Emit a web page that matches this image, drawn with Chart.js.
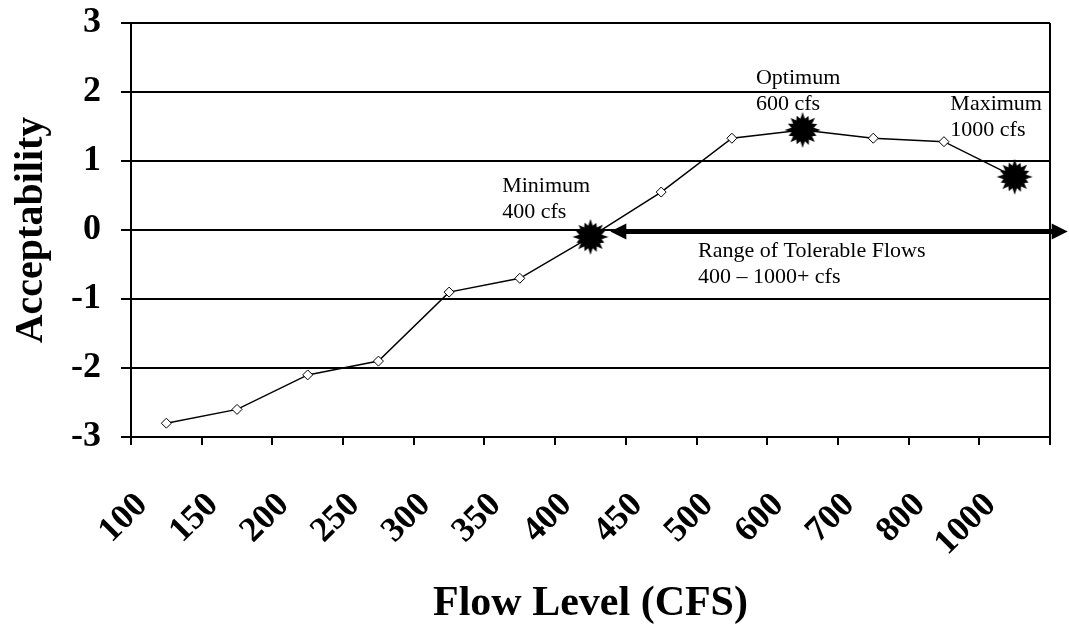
<!DOCTYPE html>
<html><head><meta charset="utf-8">
<script src="https://cdn.jsdelivr.net/npm/chart.js@4/dist/chart.umd.min.js"></script>
<style>html,body{margin:0;padding:0;background:#fff;overflow:hidden;}</style>
</head><body>
<canvas id="c" width="1069" height="631"></canvas>
<script>
// ---- data ----
const flowLevels = ['100','150','200','250','300','350','400','450','500','600','700','800','1000'];
const acceptability = [-2.8, -2.6, -2.1, -1.9, -0.9, -0.7, -0.1, 0.55, 1.33, 1.45, 1.33, 1.28, 0.77];
const yTickValues = [-3, -2, -1, 0, 1, 2, 3];
const keyFlows = ['400', '600', '1000'];
const noteMinimum = ['Minimum', '400 cfs'];
const noteOptimum = ['Optimum', '600 cfs'];
const noteMaximum = ['Maximum', '1000 cfs'];
const noteRange = ['Range of Tolerable Flows', '400 \u2013 1000+ cfs'];

// annotation anchors in data units (category index, acceptability)
const annotations = [
  { lines: noteMinimum, at: [4.75, 0.55] },
  { lines: noteOptimum, at: [8.34, 2.12] },
  { lines: noteMaximum, at: [11.09, 1.74] },
  { lines: noteRange,   at: [7.52, -0.39] }
];
const rangeArrow = { from: 6.28, to: 12.75, y: -0.02 };

const SERIF = '"Liberation Serif", "Times New Roman", serif';

function makeBurst(size) {
  const c = document.createElement('canvas');
  c.width = c.height = size;
  const g = c.getContext('2d');
  const r = size / 2;
  const outer = [1, 0.84, 0.97, 0.88, 1, 0.83, 0.95, 0.9, 1, 0.86, 0.96, 0.84, 1, 0.89, 0.94, 0.86];
  const n = outer.length;
  g.beginPath();
  for (let i = 0; i < n; i++) {
    const a1 = i / n * 2 * Math.PI - Math.PI / 2;
    const a2 = (i + 0.5) / n * 2 * Math.PI - Math.PI / 2;
    const ro = (r - 1) * outer[i], ri = r * 0.6;
    g.lineTo(r + ro * Math.cos(a1), r + ro * Math.sin(a1));
    g.lineTo(r + ri * Math.cos(a2), r + ri * Math.sin(a2));
  }
  g.closePath();
  g.fillStyle = '#000';
  g.fill();
  return c;
}
const burst = makeBurst(38);

const overlay = {
  id: 'overlay',
  afterDatasetsDraw(chart) {
    const { ctx, chartArea, scales: { x, y } } = chart;
    ctx.save();
    // right frame line
    ctx.strokeStyle = '#000';
    ctx.lineWidth = 2;
    ctx.beginPath();
    ctx.moveTo(chartArea.right, chartArea.top);
    ctx.lineTo(chartArea.right, chartArea.bottom);
    ctx.stroke();

    // arrow
    const ax1 = x.getPixelForValue(rangeArrow.from);
    const ax2 = x.getPixelForValue(rangeArrow.to);
    const ay = y.getPixelForValue(rangeArrow.y);
    const head = 16, half = 8;
    ctx.lineWidth = 5;
    ctx.beginPath();
    ctx.moveTo(ax1 + head - 2, ay);
    ctx.lineTo(ax2 - head + 2, ay);
    ctx.stroke();
    ctx.fillStyle = '#000';
    ctx.beginPath();
    ctx.moveTo(ax1, ay); ctx.lineTo(ax1 + head, ay - half); ctx.lineTo(ax1 + head, ay + half); ctx.closePath();
    ctx.fill();
    ctx.beginPath();
    ctx.moveTo(ax2, ay); ctx.lineTo(ax2 - head, ay - half); ctx.lineTo(ax2 - head, ay + half); ctx.closePath();
    ctx.fill();

    // notes
    ctx.font = '22px ' + SERIF;
    ctx.textAlign = 'left';
    ctx.textBaseline = 'alphabetic';
    annotations.forEach(a => {
      const tx = x.getPixelForValue(a.at[0]);
      const ty = y.getPixelForValue(a.at[1]);
      a.lines.forEach((t, i) => ctx.fillText(t, tx, ty + i * 26));
    });
    ctx.restore();
  }
};

new Chart(document.getElementById('c'), {
  type: 'line',
  data: {
    labels: flowLevels,
    datasets: [{
      data: acceptability,
      borderColor: '#000',
      borderWidth: 1.5,
      tension: 0,
      pointStyle: ctx => keyFlows.includes(flowLevels[ctx.dataIndex]) ? burst : 'rectRot',
      pointRadius: 5,
      pointBackgroundColor: '#fff',
      pointBorderColor: '#000',
      pointBorderWidth: 1
    }]
  },
  options: {
    responsive: false,
    animation: false,
    devicePixelRatio: 1,
    layout: { padding: { left: 0, right: 19, top: 23, bottom: 0 } },
    plugins: { legend: { display: false }, tooltip: { enabled: false } },
    scales: {
      x: {
        type: 'category',
        offset: true,
        grid: { offset: true, drawOnChartArea: false, drawTicks: true, tickLength: 8, color: '#000', lineWidth: 2 },
        border: { display: true, color: '#000', width: 2 },
        ticks: {
          autoSkip: false, maxRotation: 45, minRotation: 45,
          color: '#000', font: { family: SERIF, size: 35, weight: 'bold' },
          labelOffset: -24, padding: 40
        },
        title: { display: true, text: 'Flow Level (CFS)', color: '#000',
                 font: { family: SERIF, size: 42, weight: 'bold' }, padding: { top: 0, bottom: 2 } },
        afterFit(s) { s.height = 194; s.paddingLeft = 0; s.paddingRight = 0; }
      },
      y: {
        min: -3, max: 3,
        afterBuildTicks(s) { s.ticks = yTickValues.map(v => ({ value: v })); },
        grid: { color: '#000', lineWidth: 2, tickLength: 10, drawTicks: true },
        border: { display: true, color: '#000', width: 2 },
        ticks: { color: '#000', font: { family: SERIF, size: 36, weight: 'bold' }, padding: 20 },
        title: { display: true, text: 'Acceptability', color: '#000',
                 font: { family: SERIF, size: 40, weight: 'bold' }, padding: { top: 8, bottom: 0 } },
        afterFit(s) { s.width = 131; s.paddingTop = 0; s.paddingBottom = 0; }
      }
    }
  },
  plugins: [overlay]
});
</script>
</body></html>
